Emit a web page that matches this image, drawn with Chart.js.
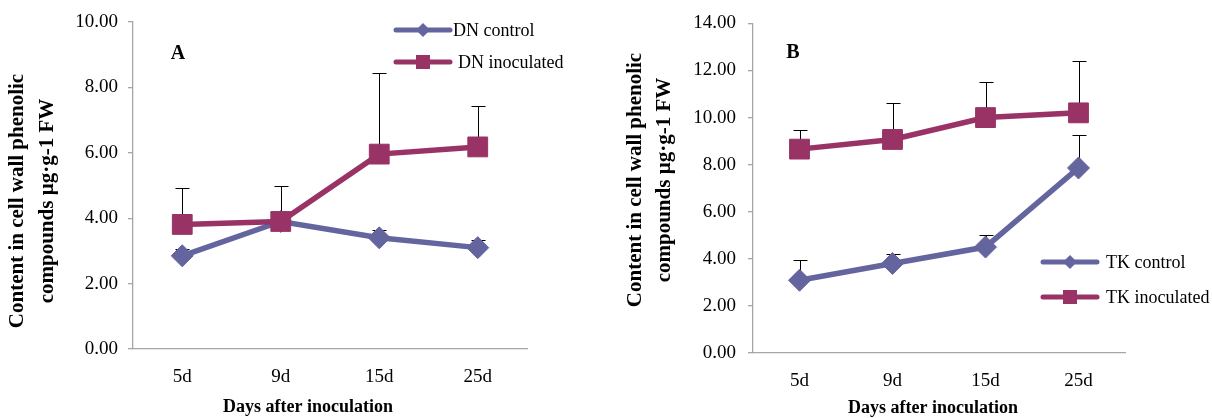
<!DOCTYPE html>
<html>
<head>
<meta charset="utf-8">
<script src="https://cdn.jsdelivr.net/npm/chart.js@4/dist/chart.umd.min.js"></script>
<style>
  html, body { margin: 0; padding: 0; background: #ffffff; }
  #wrap { position: relative; width: 1212px; height: 418px; overflow: hidden; }
  canvas { position: absolute; top: 0; }
</style>
</head>
<body>
<div id="wrap">
  <canvas id="cA" width="600" height="418" style="left:0px"></canvas>
  <canvas id="cB" width="612" height="418" style="left:600px"></canvas>
</div>
<script>
// ---------------- data ----------------
const categories = ['5d', '9d', '15d', '25d'];

const dnControl = [2.85, 3.90, 3.40, 3.10];
const dnControlErr = [0.20, 0.10, 0.23, 0.23];
const dnInoculated = [3.81, 3.90, 5.96, 6.18];
const dnInoculatedErr = [1.12, 1.10, 2.49, 1.24];

const tkControl = [3.09, 3.80, 4.50, 7.86];
const tkControlErr = [0.85, 0.39, 0.53, 1.41];
const tkInoculated = [8.66, 9.07, 10.00, 10.20];
const tkInoculatedErr = [0.83, 1.53, 1.53, 2.20];

const yTicksA = [0, 2, 4, 6, 8, 10];
const yTicksB = [0, 2, 4, 6, 8, 10, 12, 14];

const yTitleLines = ['Content in cell wall phenolic', 'compounds \u00b5g\u00b7g-1 FW'];
const xTitle = 'Days after inoculation';
const seriesNamesA = ['DN control', 'DN inoculated'];
const seriesNamesB = ['TK control', 'TK inoculated'];
const panelA = 'A';
const panelB = 'B';

// ---------------- styles ----------------
const COLOR_CONTROL = '#64649f';
const COLOR_INOC = '#993366';
const AXIS_GRAY = '#a6a6a6';
const SERIF = "'Liberation Serif', 'Times New Roman', serif";

Chart.defaults.font.family = SERIF;
Chart.defaults.color = '#000';

const errorBarPlugin = {
  id: 'errorBars',
  beforeDatasetsDraw(chart) {
    const ctx = chart.ctx;
    const xs = chart.scales.x, ys = chart.scales.y;
    ctx.save();
    ctx.strokeStyle = '#000';
    ctx.lineWidth = 1;
    chart.data.datasets.forEach(ds => {
      if (!ds.errors) return;
      ds.data.forEach((v, i) => {
        const x = Math.round(xs.getPixelForValue(i)) + 0.5;
        const y0 = ys.getPixelForValue(v);
        const y1 = Math.round(ys.getPixelForValue(v + ds.errors[i])) + 0.5;
        ctx.beginPath();
        ctx.moveTo(x, y0);
        ctx.lineTo(x, y1);
        ctx.moveTo(x - 7, y1);
        ctx.lineTo(x + 7, y1);
        ctx.stroke();
      });
    });
    ctx.restore();
  }
};

function drawMarker(ctx, style, x, y, r, color) {
  ctx.fillStyle = color;
  ctx.beginPath();
  if (style === 'rectRot') {
    ctx.moveTo(x - r, y); ctx.lineTo(x, y - r); ctx.lineTo(x + r, y); ctx.lineTo(x, y + r);
  } else {
    ctx.rect(x - r, y - r, 2 * r, 2 * r);
  }
  ctx.closePath();
  ctx.fill();
}

const textPlugin = {
  id: 'texts',
  afterDraw(chart, args, o) {
    const ctx = chart.ctx;
    ctx.save();
    ctx.fillStyle = '#000';
    // y title (two lines, rotated)
    ctx.save();
    ctx.translate(0, o.yTitleCenterY);
    ctx.rotate(-Math.PI / 2);
    ctx.font = 'bold 21px ' + SERIF;
    ctx.textAlign = 'center';
    ctx.textBaseline = 'middle';
    yTitleLines.forEach((t, i) => ctx.fillText(t, 0, o.yTitleX[i]));
    ctx.restore();
    // x title
    ctx.font = 'bold 18px ' + SERIF;
    ctx.textAlign = 'center';
    ctx.textBaseline = 'middle';
    ctx.fillText(xTitle, o.xTitleX, o.xTitleY);
    // panel letter
    ctx.font = 'bold 20px ' + SERIF;
    ctx.fillText(o.panel, o.panelX, o.panelY);
    // legend
    ctx.font = '18px ' + SERIF;
    ctx.textAlign = 'left';
    chart.data.datasets.forEach((ds, i) => {
      const ly = o.legendY[i];
      ctx.strokeStyle = ds.borderColor;
      ctx.lineWidth = 5;
      ctx.lineCap = 'round';
      ctx.beginPath();
      ctx.moveTo(o.legendX0, ly);
      ctx.lineTo(o.legendX1, ly);
      ctx.stroke();
      const mx = (o.legendX0 + o.legendX1) / 2;
      if (ds.pointStyle === 'rectRot') drawMarker(ctx, 'rectRot', mx, ly, 7, ds.borderColor);
      else drawMarker(ctx, 'rect', mx, ly, 7, ds.borderColor);
      ctx.fillStyle = '#000';
      ctx.fillText(ds.label, o.legendTextX[i], ly + 1);
    });
    ctx.restore();
  }
};

function makeChart(canvasId, names, ctrl, ctrlErr, inoc, inocErr, yMax, geom, texts) {
  const cw = geom.canvasWidth;
  return new Chart(document.getElementById(canvasId), {
    type: 'line',
    data: {
      labels: categories,
      datasets: [
        {
          label: names[0], data: ctrl, errors: ctrlErr, order: 1,
          borderColor: COLOR_CONTROL, backgroundColor: COLOR_CONTROL,
          borderWidth: 5.5, tension: 0, pointStyle: 'rectRot', pointRadius: 11,
          pointHoverRadius: 11, pointBorderWidth: 1, pointBackgroundColor: COLOR_CONTROL,
          pointBorderColor: COLOR_CONTROL, clip: false
        },
        {
          label: names[1], data: inoc, errors: inocErr, order: 0,
          borderColor: COLOR_INOC, backgroundColor: COLOR_INOC,
          borderWidth: 5.5, tension: 0, pointStyle: 'rect', pointRadius: 14,
          pointHoverRadius: 14, pointBorderWidth: 1, pointBackgroundColor: COLOR_INOC,
          pointBorderColor: COLOR_INOC, clip: false
        }
      ]
    },
    options: {
      responsive: false,
      animation: false,
      devicePixelRatio: 1,
      events: [],
      layout: { padding: { left: 0, top: geom.top, right: cw - geom.right, bottom: 0 } },
      plugins: {
        legend: { display: false },
        tooltip: { enabled: false },
        texts: texts
      },
      scales: {
        x: {
          type: 'category',
          offset: true,
          grid: { display: false, drawTicks: false },
          border: { display: true, color: AXIS_GRAY, width: 1.3 },
          ticks: { font: { size: 19, family: SERIF }, color: '#000', padding: geom.xTickPad, maxRotation: 0, autoSkip: false },
          afterFit(s) { s.height = 418 - geom.bottom; }
        },
        y: {
          min: 0, max: yMax,
          grid: { display: true, drawOnChartArea: false, drawTicks: true, tickLength: 5, color: AXIS_GRAY, lineWidth: 1.3 },
          border: { display: true, color: AXIS_GRAY, width: 1.3 },
          ticks: {
            stepSize: 2, font: { size: 19, family: SERIF }, color: '#000', padding: geom.yTickPad,
            callback: v => Number(v).toFixed(2)
          },
          afterFit(s) { s.width = geom.left; }
        }
      }
    },
    plugins: [errorBarPlugin, textPlugin]
  });
}

makeChart('cA', seriesNamesA, dnControl, dnControlErr, dnInoculated, dnInoculatedErr, yTicksA[yTicksA.length - 1],
  { canvasWidth: 600, left: 133, right: 527, top: 22, bottom: 349, xTickPad: 17, yTickPad: 10 },
  { yTitleCenterY: 201, yTitleX: [18, 48], xTitleX: 308, xTitleY: 407, panel: panelA, panelX: 178, panelY: 54,
    legendX0: 396, legendX1: 450, legendY: [30, 62], legendTextX: [453, 458] });

makeChart('cB', seriesNamesB, tkControl, tkControlErr, tkInoculated, tkInoculatedErr, yTicksB[yTicksB.length - 1],
  { canvasWidth: 612, left: 153, right: 525, top: 23, bottom: 353, xTickPad: 17, yTickPad: 12 },
  { yTitleCenterY: 180, yTitleX: [36, 65], xTitleX: 333, xTitleY: 408, panel: panelB, panelX: 193, panelY: 53,
    legendX0: 443, legendX1: 497, legendY: [262, 297], legendTextX: [506, 506] });
</script>
</body>
</html>
